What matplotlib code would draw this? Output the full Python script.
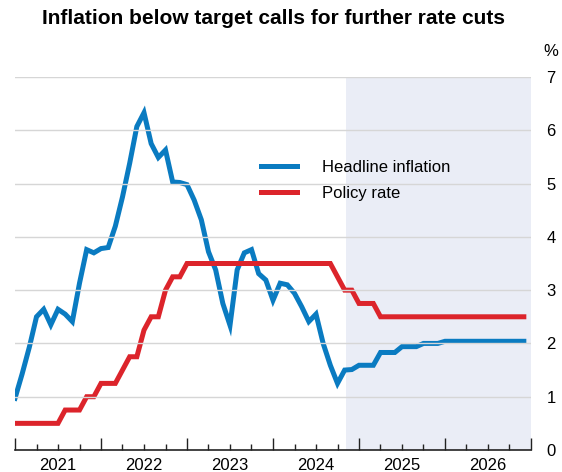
import matplotlib
matplotlib.use('Agg')
import matplotlib.pyplot as plt
import numpy as np

plt.rcParams['font.family'] = ['Liberation Sans', 'DejaVu Sans']

# monthly values, Jan 2021 - Dec 2026 (projection from late 2024)
headline = [0.97, 1.43, 1.93, 2.50, 2.64, 2.35, 2.64, 2.55, 2.41, 3.13, 3.76, 3.70,
            3.78, 3.80, 4.20, 4.75, 5.38, 6.07, 6.33, 5.75, 5.49, 5.63, 5.03, 5.02,
            4.98, 4.69, 4.32, 3.72, 3.38, 2.75, 2.34, 3.38, 3.70, 3.76, 3.31, 3.19,
            2.81, 3.13, 3.10, 2.94, 2.69, 2.41, 2.55, 2.00, 1.59, 1.25, 1.50, 1.51,
            1.59, 1.59, 1.59, 1.83, 1.83, 1.83, 1.94, 1.94, 1.94, 2.00, 2.00, 2.00,
            2.04, 2.04, 2.04, 2.04, 2.04, 2.04, 2.04, 2.04, 2.04, 2.04, 2.04, 2.04]
policy = [0.50, 0.50, 0.50, 0.50, 0.50, 0.50, 0.50, 0.75, 0.75, 0.75, 1.00, 1.00,
          1.25, 1.25, 1.25, 1.50, 1.75, 1.75, 2.25, 2.50, 2.50, 3.00, 3.25, 3.25,
          3.50, 3.50, 3.50, 3.50, 3.50, 3.50, 3.50, 3.50, 3.50, 3.50, 3.50, 3.50,
          3.50, 3.50, 3.50, 3.50, 3.50, 3.50, 3.50, 3.50, 3.50, 3.25, 3.00, 3.00,
          2.75, 2.75, 2.75, 2.50, 2.50, 2.50, 2.50, 2.50, 2.50, 2.50, 2.50, 2.50,
          2.50, 2.50, 2.50, 2.50, 2.50, 2.50, 2.50, 2.50, 2.50, 2.50, 2.50, 2.50]
years = ['2021', '2022', '2023', '2024', '2025', '2026']
forecast_start = 46.2  # months after Jan 2021

months = np.arange(len(headline))

fig = plt.figure(figsize=(5.62, 4.72), dpi=100)
ax = fig.add_axes([15/562, 22/472, 516/562, 373/472])

ax.axvspan(forecast_start, 72, color='#eaedf6', lw=0, zorder=0)
for v in range(1, 8):
    ax.axhline(v, color='#d6d6d6', lw=1.0, zorder=3)

ax.plot(months, headline, color='#0a7bc1', lw=3.6, label='Headline inflation',
        solid_joinstyle='miter', zorder=2)
ax.plot(months, policy, color='#dc242b', lw=3.6, label='Policy rate',
        solid_joinstyle='miter', zorder=2)

ax.set_xlim(0, 72)
ax.set_ylim(0, 7)

# y axis on the right, no tick marks
ax.yaxis.tick_right()
ax.set_yticks(range(0, 8))
ax.tick_params(axis='y', length=0, pad=11, labelsize=12)

# x axis: year ticks, quarter minor ticks, labels mid-year
ax.set_xticks(range(0, 73, 12))
ax.set_xticklabels([''] * 7)
ax.set_xticks(range(3, 72, 3), minor=True)
ax.set_xticklabels([years[i // 12] if i % 12 == 6 else '' for i in range(3, 72, 3)],
                   minor=True)
ax.tick_params(axis='x', which='major', direction='in', length=9, width=1, color='#222222')
ax.tick_params(axis='x', which='minor', direction='in', length=4, width=1, color='#222222',
               labelsize=12, pad=6)

for s in ['top', 'left', 'right']:
    ax.spines[s].set_visible(False)
ax.spines['bottom'].set_color('#222222')
ax.spines['bottom'].set_linewidth(1.2)
ax.spines['bottom'].set_zorder(4)

ax.legend(loc='upper left', bbox_to_anchor=(0.46, 0.80), frameon=False,
          borderpad=0, handlelength=2.2, handletextpad=1.5, labelspacing=0.68,
          fontsize=12)

fig.text(543/562, 1 - 52/472, '%', ha='left', va='center', fontsize=12)
fig.suptitle('Inflation below target calls for further rate cuts', x=273/562,
             y=1 - 19/472, va='center', fontsize=15, fontweight='bold')

fig.savefig('out.png', dpi=100)
